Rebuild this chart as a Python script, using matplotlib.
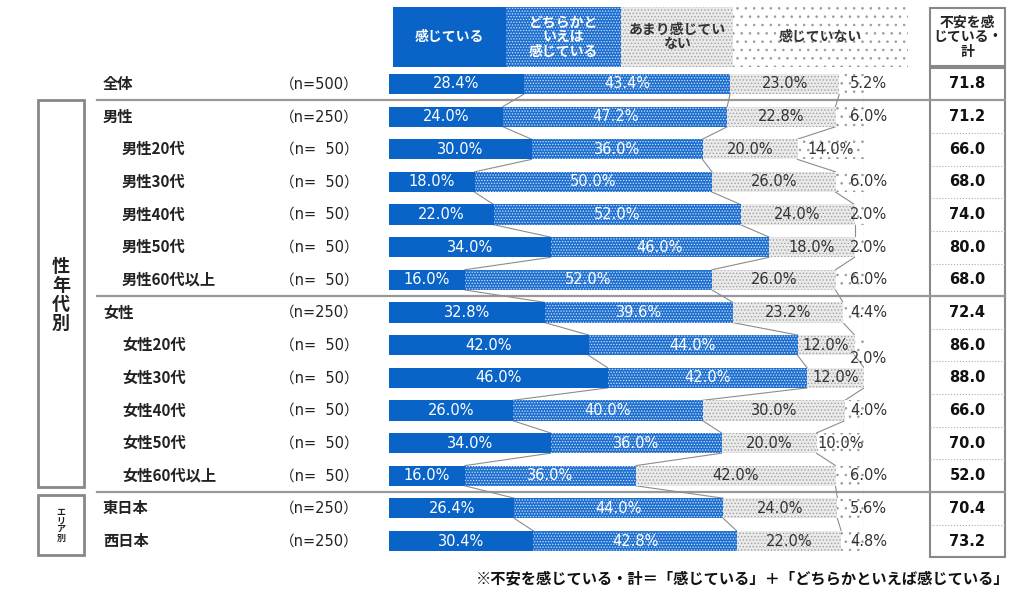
import matplotlib
matplotlib.use("Agg")
import matplotlib.pyplot as plt
import matplotlib.transforms as mtransforms
from matplotlib.patches import Rectangle

plt.rcParams['font.family'] = ['Noto Sans CJK JP', 'DejaVu Sans']
plt.rcParams['hatch.linewidth'] = 0.6
NUM_FONT = ['DejaVu Sans', 'Noto Sans CJK JP']

# data
groups = ["全体", "男性", "男性20代", "男性30代", "男性40代", "男性50代", "男性60代以上",
          "女性", "女性20代", "女性30代", "女性40代", "女性50代", "女性60代以上",
          "東日本", "西日本"]
n_sizes = [500, 250, 50, 50, 50, 50, 50, 250, 50, 50, 50, 50, 50, 250, 250]
feel = [28.4, 24.0, 30.0, 18.0, 22.0, 34.0, 16.0, 32.8, 42.0, 46.0, 26.0, 34.0, 16.0, 26.4, 30.4]
somewhat = [43.4, 47.2, 36.0, 50.0, 52.0, 46.0, 52.0, 39.6, 44.0, 42.0, 40.0, 36.0, 36.0, 44.0, 42.8]
not_much = [23.0, 22.8, 20.0, 26.0, 24.0, 18.0, 26.0, 23.2, 12.0, 12.0, 30.0, 20.0, 42.0, 24.0, 22.0]
not_at_all = [5.2, 6.0, 14.0, 6.0, 2.0, 2.0, 6.0, 4.4, 2.0, 0.0, 4.0, 10.0, 6.0, 5.6, 4.8]
series_names = ["感じている", "どちらかと\nいえは\n感じている", "あまり感じてい\nない", "感じていない"]
total_title = "不安を感\nじている・\n計"
footnote = "※不安を感じている・計＝「感じている」＋「どちらかといえば感じている」"

# style of each series: face, dot colour, hatch, label colour
styles = [
    dict(face="#0A64C8", dots="#0A64C8", hatch=None, text="white"),
    dict(face="#1C6FD0", dots="#CFE0F5", hatch="......", text="white"),
    dict(face="#EAEAEA", dots="#A0A0A0", hatch=".....", text="#333333"),
    dict(face="white", dots="#9A9A9A", hatch="..", text="#333333"),
]

W, H = 1024, 596
fig = plt.figure(figsize=(W / 100, H / 100), dpi=100)

# pixel layout of the bar area
nrows = len(groups)
row_top, row_bot = 84, 541
step = (row_bot - row_top) / (nrows - 1)
bar_l, bar_r = 389, 864
y_top = row_top - step / 2
y_bot = row_bot + step / 2

lay = fig.add_axes([0, 0, 1, 1])
lay.set_xlim(0, W)
lay.set_ylim(H, 0)
lay.axis('off')
lay.set_zorder(0)

ax = fig.add_axes([bar_l / W, 1 - y_bot / H, (bar_r - bar_l) / W, (y_bot - y_top) / H])
ax.set_xlim(0, 100)
ax.set_ylim(nrows - 0.5, -0.5)
ax.axis('off')
ax.set_zorder(1)

# x in pixels, y in rows
rowtr = mtransforms.blended_transform_factory(lay.transData, ax.transData)

series = [feel, somewhat, not_much, not_at_all]
bh = 0.62
ypos = list(range(nrows))
lefts = [0.0] * nrows
cums = []
for vals, st in zip(series, styles):
    ax.barh(ypos, vals, left=lefts, height=bh, color=st["face"], edgecolor=st["dots"],
            linewidth=0, hatch=st["hatch"], zorder=2)
    lefts = [a + b for a, b in zip(lefts, vals)]
    cums.append(lefts)

# series lines between consecutive bars
for k, cum in enumerate(cums):
    for i in range(nrows - 1):
        ax.plot([cum[i], cum[i + 1]], [i + bh / 2, i + 1 - bh / 2], color="#8C8C8C",
                lw=0.8, ls="--" if k == 3 else "-", zorder=1)

# value labels
nudge = {"女性20代": 0.42}
for k, (vals, st) in enumerate(zip(series, styles)):
    for i, v in enumerate(vals):
        if v <= 0:
            continue
        start = cums[k][i] - v
        x = start + v / 2
        y = i
        if k == 3 and v < 7:
            x = 101.0
            y = i + nudge.get(groups[i], 0)
        ax.text(x, y, f"{v:.1f}%", ha="center", va="center", fontsize=10.5, family=NUM_FONT,
                color=st["text"], zorder=4)

# header boxes
hdr_x = [393, 506, 621, 733, 908]
for k, st in enumerate(styles):
    lay.add_patch(Rectangle((hdr_x[k], 7), hdr_x[k + 1] - hdr_x[k], 60, facecolor=st["face"],
                            edgecolor=st["dots"], linewidth=0, hatch=st["hatch"]))
    lay.text((hdr_x[k] + hdr_x[k + 1]) / 2, 37, series_names[k], ha="center", va="center",
             fontsize=10, fontweight="bold", color=st["text"], linespacing=1.05)

# row labels and n sizes
for i, (g, n) in enumerate(zip(groups, n_sizes)):
    x = 122 if "代" in g else 103
    lay.text(x, i, g, transform=rowtr, ha="left", va="center", fontsize=11, fontweight="bold",
             color="#222222")
    ntxt = f"{n:>3}".replace(" ", "  ")
    lay.text(280, i, f"（n={ntxt}）", transform=rowtr, ha="left", va="center", fontsize=10.5,
             family=NUM_FONT, color="#222222")

# right table
tab_l, tab_r = 930, 1005
lay.add_patch(Rectangle((tab_l, 8), tab_r - tab_l, 58, facecolor="white", edgecolor="#888888", lw=1.5))
lay.text((tab_l + tab_r) / 2, 37, total_title, ha="center", va="center", fontsize=10,
         fontweight="bold", color="#222222", linespacing=1.05)
lay.add_patch(Rectangle((tab_l, 68), tab_r - tab_l, y_bot - 68, facecolor="none",
                        edgecolor="#888888", lw=1.5))
for i in range(nrows):
    total = feel[i] + somewhat[i]
    lay.text((tab_l + tab_r) / 2, i, f"{total:.1f}", transform=rowtr, ha="center", va="center",
             fontsize=10.5, fontweight="bold", family=NUM_FONT, color="#111111")

breaks = [0, 6, 12]
for i in range(nrows - 1):
    if i in breaks:
        lay.plot([97, tab_r], [i + 0.5, i + 0.5], transform=rowtr, color="#999999", lw=1.6)
    else:
        lay.plot([tab_l, tab_r], [i + 0.5, i + 0.5], transform=rowtr, color="#AAAAAA", lw=0.8,
                 ls=":")

# left group boxes
lay.add_patch(Rectangle((38, 100), 46, 387, facecolor="white", edgecolor="#888888", lw=2))
lay.text(61, 295, "性\n年\n代\n別", ha="center", va="center", fontsize=13, fontweight="bold",
         color="#222222", linespacing=1.0)
lay.add_patch(Rectangle((38, 495), 46, 60, facecolor="white", edgecolor="#888888", lw=2))
lay.text(61, 525, "エ\nリ\nア\n別", ha="center", va="center", fontsize=6.5, fontweight="bold",
         color="#222222", linespacing=0.95)

lay.text(1010, 578, footnote, ha="right", va="center", fontsize=11, fontweight="bold",
         color="#111111")

fig.savefig("out.png", dpi=100)
